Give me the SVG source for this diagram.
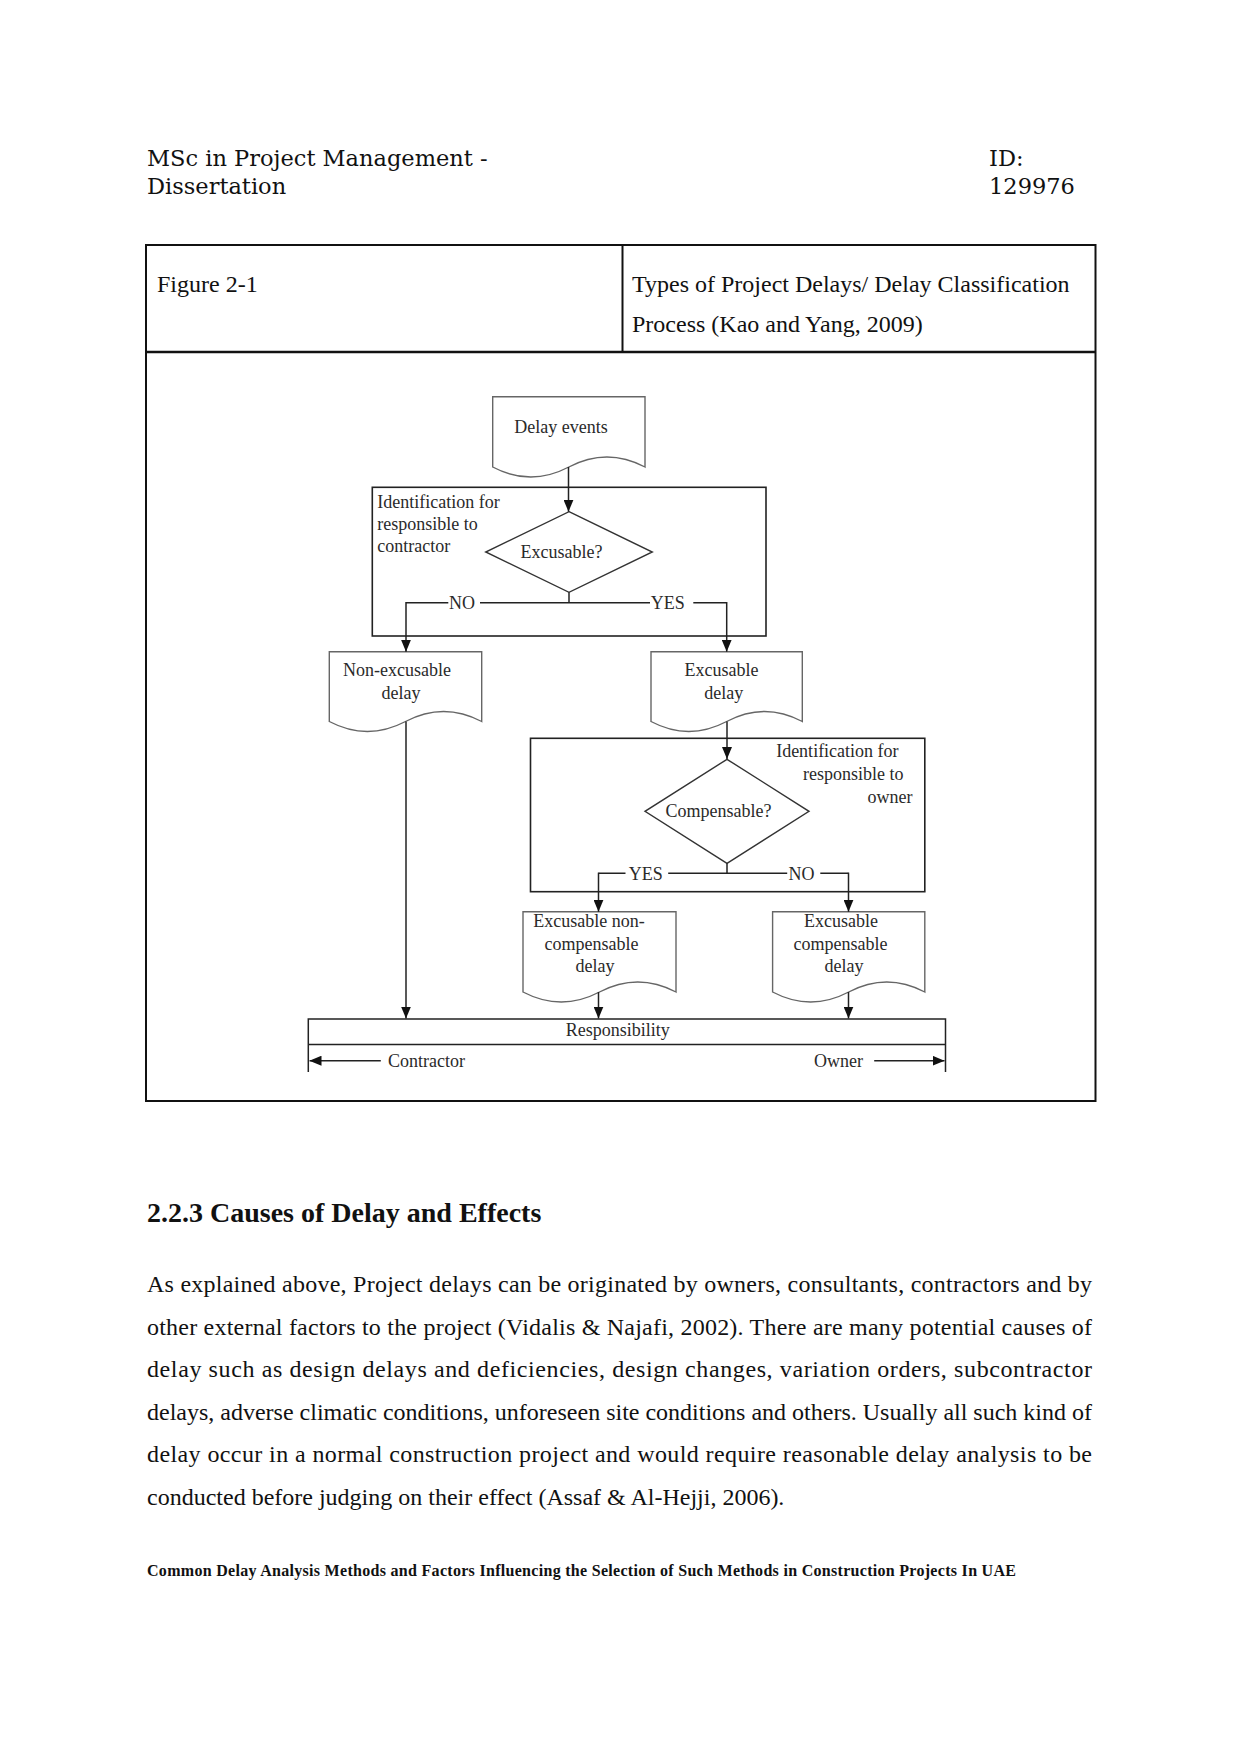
<svg xmlns="http://www.w3.org/2000/svg" width="1241" height="1754" viewBox="0 0 1241 1754">
<defs>
<style>
.hdr{font-family:"DejaVu Serif",serif;font-size:22.5px;fill:#111}
.doc{font-family:"Liberation Serif","Times New Roman",serif;font-size:24px;fill:#111}
.h2{font-family:"Liberation Serif","Times New Roman",serif;font-size:28px;font-weight:bold;fill:#111}
.ftr{font-family:"Liberation Serif","Times New Roman",serif;font-size:16px;font-weight:bold;fill:#111}
.tbl{fill:none;stroke:#111;stroke-width:2}
.lbl{font-family:"Liberation Serif","Times New Roman",serif;font-size:18px;fill:#2a2a2a}
.mid{text-anchor:middle}
.end{text-anchor:end}
.box{fill:none;stroke:#222;stroke-width:1.6}
.dshape{fill:#fff;stroke:#666;stroke-width:1.4}
.dia{fill:#fff;stroke:#333;stroke-width:1.4}
.ln{fill:none;stroke:#222;stroke-width:1.5}
.arr{fill:none;stroke:#222;stroke-width:1.5;marker-end:url(#ah)}
</style>
<marker id="ah" viewBox="0 0 12 10" refX="12" refY="5" markerWidth="12" markerHeight="10" markerUnits="userSpaceOnUse" orient="auto">
<path d="M0,0 L12,5 L0,10 z" fill="#111"/>
</marker>
</defs>
<rect width="1241" height="1754" fill="#fff"/>

<g id="page-header">
<text class="hdr" x="147" y="166">MSc in Project Management -</text>
<text class="hdr" x="147" y="194">Dissertation</text>
<text class="hdr" x="989" y="166">ID:</text>
<text class="hdr" x="989" y="194">129976</text>
</g>

<g id="figure-table">
<rect class="tbl" x="146" y="245" width="949.5" height="856"/>
<line class="tbl" x1="146" y1="352" x2="1095.5" y2="352" style="stroke-width:2.5"/>
<line class="tbl" x1="622.5" y1="245" x2="622.5" y2="352"/>
<text class="doc" x="157" y="292">Figure 2-1</text>
<text class="doc" x="632" y="292">Types of Project Delays/ Delay Classification</text>
<text class="doc" x="632" y="332">Process (Kao and Yang, 2009)</text>
</g>

<g id="box-contractor">
<rect class="box" x="372.3" y="487.3" width="393.7" height="148.7"/>
<text class="lbl" x="377.3" y="507.7">Identification for</text>
<text class="lbl" x="377.3" y="529.5">responsible to</text>
<text class="lbl" x="377.3" y="551.7">contractor</text>
</g>

<g id="box-owner">
<rect class="box" x="530.5" y="738.3" width="394.3" height="153.4"/>
<text class="lbl end" x="898.6" y="757.3">Identification for</text>
<text class="lbl end" x="903.6" y="780">responsible to</text>
<text class="lbl end" x="912.4" y="803.3">owner</text>
</g>

<g id="delay-events">
<path class="dshape" d="M492.7,467 V396.7 H645 V467 Q606.9,447 568.85,467 T492.7,467 Z"/>
<text class="lbl mid" x="561" y="433">Delay events</text>
</g>

<g id="excusable-decision">
<polygon class="dia" points="569,511.7 652.3,552 569,592.3 485.7,552"/>
<text class="lbl mid" x="561.5" y="558.3">Excusable?</text>
</g>

<g id="non-excusable-delay">
<path class="dshape" d="M329.3,721.5 V651.7 H481.7 V721.5 Q443.6,701.5 405.5,721.5 T329.3,721.5 Z"/>
<text class="lbl mid" x="397" y="676">Non-excusable</text>
<text class="lbl mid" x="401" y="699.3">delay</text>
</g>

<g id="excusable-delay">
<path class="dshape" d="M651,721.5 V651.7 H802.3 V721.5 Q764.5,701.5 726.65,721.5 T651,721.5 Z"/>
<text class="lbl mid" x="721.5" y="676">Excusable</text>
<text class="lbl mid" x="723.7" y="699.3">delay</text>
</g>

<g id="compensable-decision">
<polygon class="dia" points="727,759.3 809,811.3 727,863.3 645,811.3"/>
<text class="lbl mid" x="718.5" y="816.7">Compensable?</text>
</g>

<g id="excusable-non-compensable-delay">
<path class="dshape" d="M523,992 V911.7 H676 V992 Q637.75,972 599.5,992 T523,992 Z"/>
<text class="lbl mid" x="589" y="926.7">Excusable non-</text>
<text class="lbl mid" x="591.5" y="950">compensable</text>
<text class="lbl mid" x="595" y="972.3">delay</text>
</g>

<g id="excusable-compensable-delay">
<path class="dshape" d="M772.6,992 V911.7 H924.8 V992 Q886.75,972 848.7,992 T772.6,992 Z"/>
<text class="lbl mid" x="841" y="926.7">Excusable</text>
<text class="lbl mid" x="840.6" y="950">compensable</text>
<text class="lbl mid" x="844" y="972.3">delay</text>
</g>

<g id="responsibility">
<path class="ln" d="M308.3,1072 V1019 H945.5 V1072 M308.3,1044.5 H945.5"/>
<text class="lbl mid" x="617.7" y="1036">Responsibility</text>
<text class="lbl" x="388" y="1066.7">Contractor</text>
<text class="lbl" x="814" y="1066.7">Owner</text>
</g>

<g id="connectors">
<line class="arr" x1="568.5" y1="467" x2="568.5" y2="511.7"/>
<line class="ln" x1="569" y1="592.3" x2="569" y2="602.7"/>
<path class="ln" d="M448.3,602.7 H406 M480,602.7 H650 M693.3,602.7 H726.7"/>
<line class="arr" x1="406" y1="602" x2="406" y2="651.7"/>
<line class="arr" x1="726.7" y1="602" x2="726.7" y2="651.7"/>
<text class="lbl" x="449" y="608.5">NO</text>
<text class="lbl" x="650.7" y="608.5">YES</text>

<line class="arr" x1="406" y1="721.5" x2="406" y2="1018.5"/>
<line class="arr" x1="727" y1="721.5" x2="727" y2="759"/>

<line class="ln" x1="727" y1="863.3" x2="727" y2="873.3"/>
<path class="ln" d="M625.5,873.3 H598.5 M668.2,873.3 H787.2 M820.3,873.3 H848.5"/>
<line class="arr" x1="598.5" y1="872.6" x2="598.5" y2="911.7"/>
<line class="arr" x1="848.5" y1="872.6" x2="848.5" y2="911.7"/>
<text class="lbl" x="628.8" y="880">YES</text>
<text class="lbl" x="788.4" y="880">NO</text>

<line class="arr" x1="598.5" y1="992" x2="598.5" y2="1018.5"/>
<line class="arr" x1="848.5" y1="992" x2="848.5" y2="1018.5"/>

<line class="arr" x1="380.8" y1="1060.7" x2="309.5" y2="1060.7"/>
<line class="arr" x1="874.2" y1="1060.7" x2="944.5" y2="1060.7"/>
</g>

<g id="section-text">
<text class="h2" x="147" y="1222">2.2.3 Causes of Delay and Effects</text>
<text class="doc" x="147" y="1292" textLength="945" lengthAdjust="spacing">As explained above, Project delays can be originated by owners, consultants, contractors and by</text>
<text class="doc" x="147" y="1334.5" textLength="945" lengthAdjust="spacing">other external factors to the project (Vidalis &amp; Najafi, 2002). There are many potential causes of</text>
<text class="doc" x="147" y="1377" textLength="945" lengthAdjust="spacing">delay such as design delays and deficiencies, design changes, variation orders, subcontractor</text>
<text class="doc" x="147" y="1419.5" textLength="945" lengthAdjust="spacing">delays, adverse climatic conditions, unforeseen site conditions and others. Usually all such kind of</text>
<text class="doc" x="147" y="1462" textLength="945" lengthAdjust="spacing">delay occur in a normal construction project and would require reasonable delay analysis to be</text>
<text class="doc" x="147" y="1504.5">conducted before judging on their effect (Assaf &amp; Al-Hejji, 2006).</text>
</g>

<g id="page-footer">
<text class="ftr" x="147" y="1576" textLength="869" lengthAdjust="spacing">Common Delay Analysis Methods and Factors Influencing the Selection of Such Methods in Construction Projects In UAE</text>
</g>
</svg>
